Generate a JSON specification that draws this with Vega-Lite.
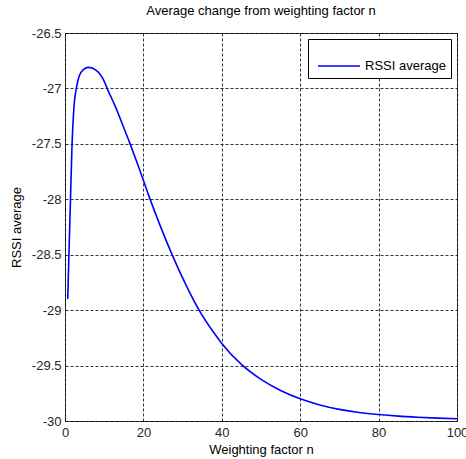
{
  "$schema": "https://vega.github.io/schema/vega-lite/v6.json",
  "width": 392,
  "height": 388,
  "autosize": "none",
  "padding": {"left": 65, "top": 33, "right": 9, "bottom": 38},
  "background": "white",
  "title": {
    "text": "Average change from weighting factor n",
    "font": "Liberation Sans",
    "fontSize": 13,
    "fontWeight": "normal",
    "color": "#000000",
    "anchor": "middle",
    "offset": 9
  },
  "config": {
    "view": {"stroke": "#404040", "strokeWidth": 1},
    "axis": {
      "labelFont": "Liberation Sans",
      "labelFontSize": 13,
      "labelColor": "#262626",
      "labelFlush": false,
      "labelOverlap": false,
      "labelBound": false,
      "titleFont": "Liberation Sans",
      "titleFontSize": 13,
      "titleFontWeight": "normal",
      "titleColor": "#000000",
      "domain": false,
      "ticks": false,
      "grid": true,
      "gridColor": "#000000",
      "gridOpacity": 0.8,
      "gridDash": [3, 2],
      "gridWidth": 1
    }
  },
  "data": {
    "values": [
      {"n": 0.7, "rssi": -28.9, "series": "RSSI average"},
      {"n": 1.0, "rssi": -28.5, "series": "RSSI average"},
      {"n": 1.4, "rssi": -28.0, "series": "RSSI average"},
      {"n": 1.8, "rssi": -27.5, "series": "RSSI average"},
      {"n": 2.3, "rssi": -27.16, "series": "RSSI average"},
      {"n": 3.0, "rssi": -26.98, "series": "RSSI average"},
      {"n": 3.6, "rssi": -26.89, "series": "RSSI average"},
      {"n": 4.7, "rssi": -26.83, "series": "RSSI average"},
      {"n": 6.0, "rssi": -26.81, "series": "RSSI average"},
      {"n": 7.7, "rssi": -26.83, "series": "RSSI average"},
      {"n": 9.8, "rssi": -26.92, "series": "RSSI average"},
      {"n": 11.0, "rssi": -27.02, "series": "RSSI average"},
      {"n": 12.8, "rssi": -27.16, "series": "RSSI average"},
      {"n": 14.5, "rssi": -27.31, "series": "RSSI average"},
      {"n": 16.6, "rssi": -27.5, "series": "RSSI average"},
      {"n": 18.7, "rssi": -27.7, "series": "RSSI average"},
      {"n": 21.3, "rssi": -27.96, "series": "RSSI average"},
      {"n": 24.3, "rssi": -28.24, "series": "RSSI average"},
      {"n": 27.2, "rssi": -28.49, "series": "RSSI average"},
      {"n": 31.1, "rssi": -28.79, "series": "RSSI average"},
      {"n": 34.2, "rssi": -29.0, "series": "RSSI average"},
      {"n": 37.9, "rssi": -29.2, "series": "RSSI average"},
      {"n": 40.0, "rssi": -29.3, "series": "RSSI average"},
      {"n": 45.0, "rssi": -29.49, "series": "RSSI average"},
      {"n": 50.0, "rssi": -29.625, "series": "RSSI average"},
      {"n": 55.0, "rssi": -29.725, "series": "RSSI average"},
      {"n": 60.0, "rssi": -29.8, "series": "RSSI average"},
      {"n": 65.0, "rssi": -29.855, "series": "RSSI average"},
      {"n": 70.0, "rssi": -29.895, "series": "RSSI average"},
      {"n": 75.0, "rssi": -29.923, "series": "RSSI average"},
      {"n": 80.0, "rssi": -29.942, "series": "RSSI average"},
      {"n": 85.0, "rssi": -29.956, "series": "RSSI average"},
      {"n": 90.0, "rssi": -29.966, "series": "RSSI average"},
      {"n": 95.0, "rssi": -29.974, "series": "RSSI average"},
      {"n": 100.0, "rssi": -29.98, "series": "RSSI average"}
    ]
  },
  "mark": {"type": "line", "strokeWidth": 1.6, "interpolate": "monotone"},
  "encoding": {
    "x": {
      "field": "n",
      "type": "quantitative",
      "scale": {"domain": [0, 100], "nice": false, "zero": false},
      "axis": {"values": [0, 20, 40, 60, 80, 100], "title": "Weighting factor n", "labelPadding": 5, "titlePadding": 4}
    },
    "y": {
      "field": "rssi",
      "type": "quantitative",
      "scale": {"domain": [-30, -26.5], "nice": false, "zero": false},
      "axis": {"values": [-30, -29.5, -29, -28.5, -28, -27.5, -27, -26.5], "labelExpr": "toString(datum.value)", "title": "RSSI average", "labelPadding": 4, "titlePadding": 8, "labelBaseline": "middle"}
    },
    "color": {
      "field": "series",
      "type": "nominal",
      "scale": {"domain": ["RSSI average"], "range": ["#0000ff"]},
      "legend": {
        "title": null,
        "orient": "top-right",
        "offset": 6,
        "padding": 5,
        "fillColor": "white",
        "strokeColor": "#000000",
        "symbolType": "stroke",
        "symbolSize": 1764,
        "symbolStrokeWidth": 1.6,
        "symbolOffset": 4,
        "labelOffset": 4,
        "labelFont": "Liberation Sans",
        "labelFontSize": 13,
        "labelColor": "#000000"
      }
    }
  }
}
